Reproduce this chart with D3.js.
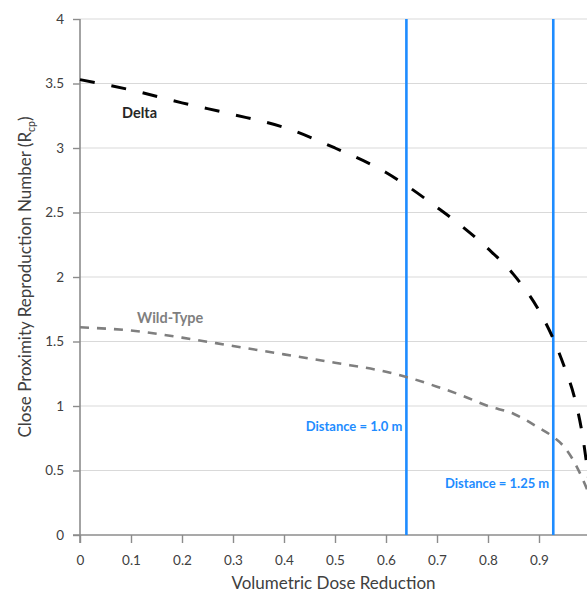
<!DOCTYPE html>
<html>
<head>
<meta charset="utf-8">
<script src="https://cdn.jsdelivr.net/npm/d3@7/dist/d3.min.js"></script>
<style>
  html, body { margin: 0; padding: 0; background: #fff; }
  svg { display: block; font-family: Lato, "Open Sans", sans-serif; }
</style>
</head>
<body>
<svg id="chart" width="587" height="593"></svg>
<script>
// Volumetric dose reduction (x) sampled along each curve
const doseDelta = [0, 0.1, 0.2, 0.3, 0.4, 0.5, 0.6, 0.64, 0.7, 0.75, 0.8, 0.85, 0.9, 0.928, 0.95, 0.97, 0.985, 1.0];
const rcpDelta  = [3.53, 3.45, 3.35, 3.26, 3.16, 3.00, 2.81, 2.71, 2.54, 2.39, 2.22, 2.02, 1.74, 1.52, 1.30, 1.06, 0.78, 0.35];

const doseWild = [0, 0.1, 0.2, 0.3, 0.4, 0.5, 0.6, 0.64, 0.7, 0.75, 0.8, 0.85, 0.9, 0.928, 0.95, 0.97, 0.986, 1.0];
const rcpWild  = [1.61, 1.585, 1.53, 1.465, 1.40, 1.335, 1.265, 1.225, 1.15, 1.08, 1.00, 0.94, 0.83, 0.76, 0.68, 0.56, 0.43, 0.30];

// Distance thresholds drawn as vertical markers
const distanceDose   = [0.64, 0.928];
const distanceLabels = ["Distance = 1.0 m", "Distance = 1.25 m"];
const distanceLabelY = [0.84, 0.40];

// Axis ticks
const xTicks = [0, 0.1, 0.2, 0.3, 0.4, 0.5, 0.6, 0.7, 0.8, 0.9];
const yTicks = [0, 0.5, 1, 1.5, 2, 2.5, 3, 3.5, 4];

const svg = d3.select("#chart");
const W = 587, H = 593;
const plotLeft = 80, plotTop = 19, plotBottom = 535;

const x = d3.scaleLinear().domain([0, 1]).range([plotLeft, 590]);
const y = d3.scaleLinear().domain([0, 4]).range([plotBottom, plotTop]);

// Horizontal gridlines
svg.append("g")
  .selectAll("line")
  .data(yTicks.filter(d => d > 0))
  .join("line")
  .attr("x1", plotLeft).attr("x2", W)
  .attr("y1", d => y(d)).attr("y2", d => y(d))
  .attr("stroke", "#d9d9d9").attr("stroke-width", 1.2);

// Y axis
const yAxis = svg.append("g")
  .attr("transform", `translate(${plotLeft},0)`)
  .call(d3.axisLeft(y).tickValues(yTicks).tickSize(7).tickSizeOuter(0).tickPadding(9)
    .tickFormat(d => d3.format("")(d)));
yAxis.select(".domain").attr("stroke", "#8c8c8c").attr("stroke-width", 1.6)
  .attr("d", `M0,${plotTop}V${plotBottom + 8}`);
yAxis.selectAll(".tick line").attr("stroke", "#8c8c8c").attr("stroke-width", 1.4);
yAxis.selectAll(".tick text").attr("fill", "#404040").style("font-size", "13.5px")
  .style("font-family", "Lato, sans-serif");

// X axis
const xAxis = svg.append("g")
  .attr("transform", `translate(0,${plotBottom})`)
  .call(d3.axisBottom(x).tickValues(xTicks).tickSize(8).tickSizeOuter(0).tickPadding(12)
    .tickFormat(d => d3.format("")(d)));
xAxis.select(".domain").attr("stroke", "#8c8c8c").attr("stroke-width", 1.6)
  .attr("d", `M${plotLeft - 7},0H${W}`);
xAxis.selectAll(".tick line").attr("stroke", "#8c8c8c").attr("stroke-width", 1.4);
xAxis.selectAll(".tick text").attr("fill", "#404040").style("font-size", "13.5px")
  .style("font-family", "Lato, sans-serif");

// Axis titles
svg.append("text")
  .attr("x", (plotLeft + W) / 2).attr("y", 589)
  .attr("text-anchor", "middle")
  .attr("fill", "#404040").style("font-size", "17px")
  .text("Volumetric Dose Reduction");

const yTitle = svg.append("text")
  .attr("transform", `translate(31,${(plotTop + plotBottom) / 2}) rotate(-90)`)
  .attr("text-anchor", "middle")
  .attr("fill", "#404040").style("font-size", "17px");
yTitle.append("tspan").text("Close Proximity Reproduction Number (R");
yTitle.append("tspan").attr("dy", 4).style("font-size", "10.5px").text("cp");
yTitle.append("tspan").attr("dy", -4).text(")");

// Distance markers
svg.append("g")
  .selectAll("line")
  .data(distanceDose)
  .join("line")
  .attr("x1", d => x(d)).attr("x2", d => x(d))
  .attr("y1", plotTop).attr("y2", plotBottom)
  .attr("stroke", "#1e8cff").attr("stroke-width", 2.6);

svg.append("g")
  .selectAll("text")
  .data(distanceDose)
  .join("text")
  .attr("x", d => x(d) - 4)
  .attr("y", (d, i) => y(distanceLabelY[i]) + 4.5)
  .attr("text-anchor", "end")
  .attr("fill", "#1e8cff")
  .style("font-size", "13px").style("font-weight", "bold")
  .text((d, i) => distanceLabels[i]);

// Curves
const line = d3.line().x(d => x(d[0])).y(d => y(d[1])).curve(d3.curveMonotoneX);

svg.append("path")
  .datum(doseWild.map((d, i) => [d, rcpWild[i]]))
  .attr("d", line)
  .attr("fill", "none")
  .attr("stroke", "#7f7f7f").attr("stroke-width", 2.6)
  .attr("stroke-dasharray", "9,8");

svg.append("path")
  .datum(doseDelta.map((d, i) => [d, rcpDelta[i]]))
  .attr("d", line)
  .attr("fill", "none")
  .attr("stroke", "#000").attr("stroke-width", 3)
  .attr("stroke-dasharray", "15,17");

// Series labels
svg.append("text")
  .attr("x", 122).attr("y", 118)
  .attr("fill", "#262626").style("font-size", "14.5px").style("font-weight", "bold")
  .text("Delta");

svg.append("text")
  .attr("x", 137).attr("y", 323)
  .attr("fill", "#7f7f7f").style("font-size", "14.5px").style("font-weight", "bold")
  .text("Wild-Type");
</script>
</body>
</html>
